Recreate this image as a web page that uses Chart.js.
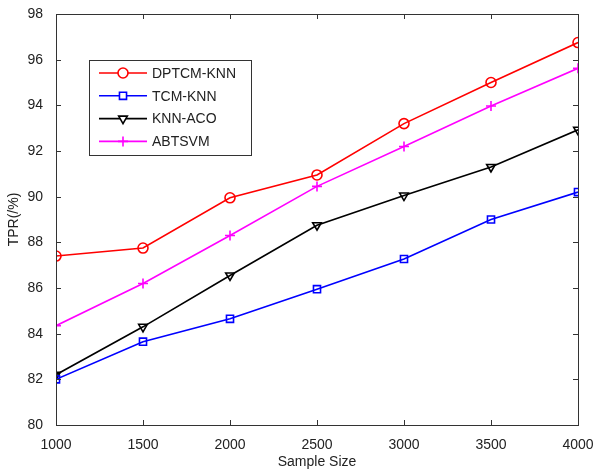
<!DOCTYPE html>
<html>
<head>
<meta charset="utf-8">
<script src="https://cdn.jsdelivr.net/npm/chart.js@4"></script>
<style>
    html, body { margin: 0; padding: 0; background: #fff; }
    #wrap { width: 593px; height: 471px; }
</style>
</head>
<body>
<div id="wrap"><canvas id="tprChart" width="593" height="471"></canvas></div>
<script>
// Data
const sampleSizes = [1000, 1500, 2000, 2500, 3000, 3500, 4000];
const dptcmKnn = [87.4, 87.75, 89.95, 90.95, 93.2, 95.0, 96.75];
const tcmKnn   = [82.0, 83.65, 84.65, 85.95, 87.27, 89.0, 90.2];
const knnAco   = [82.2, 84.3, 86.55, 88.75, 90.05, 91.3, 92.93];
const abtsvm   = [84.35, 86.2, 88.3, 90.45, 92.2, 93.97, 95.62];
const seriesNames = ['DPTCM-KNN', 'TCM-KNN', 'KNN-ACO', 'ABTSVM'];

const FONT = 'Arial, "Liberation Sans", sans-serif';
const AXIS_COLOR = '#333333';

function toPoints(values) {
    return values.map((v, i) => ({ x: sampleSizes[i], y: v }));
}

function makeSet(label, values, color, style, rotation) {
    return {
        label: label,
        data: toPoints(values),
        borderColor: color,
        backgroundColor: 'transparent',
        borderWidth: 1.6,
        tension: 0,
        pointStyle: style,
        pointRotation: rotation || 0,
        pointRadius: 5,
        pointBorderWidth: 1.6,
        pointBorderColor: color,
        pointBackgroundColor: 'transparent'
    };
}

// MATLAB style box with inward ticks on all four sides
const boxPlugin = {
    id: 'boxPlugin',
    afterDraw(chart) {
        const { ctx, chartArea: a, scales } = chart;
        ctx.save();
        ctx.strokeStyle = AXIS_COLOR;
        ctx.lineWidth = 1;
        ctx.strokeRect(Math.round(a.left) + 0.5, Math.round(a.top) + 0.5,
            Math.round(a.right - a.left), Math.round(a.bottom - a.top));
        const len = 5;
        ctx.beginPath();
        scales.x.ticks.forEach(t => {
            const px = Math.round(scales.x.getPixelForValue(t.value)) + 0.5;
            ctx.moveTo(px, a.bottom); ctx.lineTo(px, a.bottom - len);
            ctx.moveTo(px, a.top); ctx.lineTo(px, a.top + len);
        });
        scales.y.ticks.forEach(t => {
            const py = Math.round(scales.y.getPixelForValue(t.value)) + 0.5;
            ctx.moveTo(a.left, py); ctx.lineTo(a.left + len, py);
            ctx.moveTo(a.right, py); ctx.lineTo(a.right - len, py);
        });
        ctx.stroke();
        ctx.restore();
    }
};

// Legend box drawn inside the plot, upper left
const legendPlugin = {
    id: 'insideLegend',
    afterDatasetsDraw(chart) {
        const ctx = chart.ctx;
        const box = { x: 89, y: 60, w: 162, h: 95 };
        ctx.save();
        ctx.fillStyle = '#fff';
        ctx.fillRect(box.x, box.y, box.w, box.h);
        ctx.strokeStyle = AXIS_COLOR;
        ctx.lineWidth = 1;
        ctx.strokeRect(box.x + 0.5, box.y + 0.5, box.w, box.h);
        ctx.font = '14px ' + FONT;
        ctx.textBaseline = 'middle';
        chart.data.datasets.forEach((ds, i) => {
            const y = box.y + 13 + i * 22.8;
            ctx.strokeStyle = ds.borderColor;
            ctx.lineWidth = 1.6;
            ctx.beginPath();
            ctx.moveTo(box.x + 10, y);
            ctx.lineTo(box.x + 58, y);
            ctx.stroke();
            ctx.fillStyle = '#fff';
            Chart.helpers.drawPoint(ctx, {
                pointStyle: ds.pointStyle,
                rotation: ds.pointRotation,
                radius: 5,
                borderWidth: 1.6
            }, box.x + 34, y);
            ctx.fillStyle = '#222';
            ctx.fillText(ds.label, box.x + 63, y + 1);
        });
        ctx.restore();
    }
};

new Chart(document.getElementById('tprChart'), {
    type: 'line',
    data: {
        datasets: [
            makeSet(seriesNames[0], dptcmKnn, '#ff0000', 'circle'),
            makeSet(seriesNames[1], tcmKnn, '#0000ff', 'rect'),
            makeSet(seriesNames[2], knnAco, '#000000', 'triangle', 180),
            makeSet(seriesNames[3], abtsvm, '#ff00ff', 'cross')
        ]
    },
    options: {
        responsive: false,
        animation: false,
        layout: { padding: { left: 0, top: 14, right: 0, bottom: 0 } },
        plugins: {
            legend: { display: false },
            tooltip: { enabled: false }
        },
        scales: {
            x: {
                type: 'linear',
                min: 1000,
                max: 4000,
                grid: { display: false },
                border: { display: false },
                ticks: {
                    stepSize: 500,
                    padding: 4,
                    color: '#222',
                    font: { family: FONT, size: 14 },
                    maxRotation: 0,
                    callback: v => String(v)
                },
                title: {
                    display: true,
                    text: 'Sample Size',
                    color: '#222',
                    font: { family: FONT, size: 14 },
                    padding: { top: 2, bottom: 0 }
                },
                afterFit: scale => {
                    scale.height = 46;
                    scale.paddingRight = 15;
                }
            },
            y: {
                min: 80,
                max: 98,
                grid: { display: false },
                border: { display: false },
                ticks: {
                    stepSize: 2,
                    padding: 5,
                    color: '#222',
                    font: { family: FONT, size: 14 }
                },
                title: {
                    display: true,
                    text: 'TPR(/%)',
                    color: '#222',
                    font: { family: FONT, size: 14 },
                    padding: { top: 6, bottom: 0 }
                },
                afterFit: scale => { scale.width = 56; }
            }
        }
    },
    plugins: [boxPlugin, legendPlugin]
});
</script>
</body>
</html>
